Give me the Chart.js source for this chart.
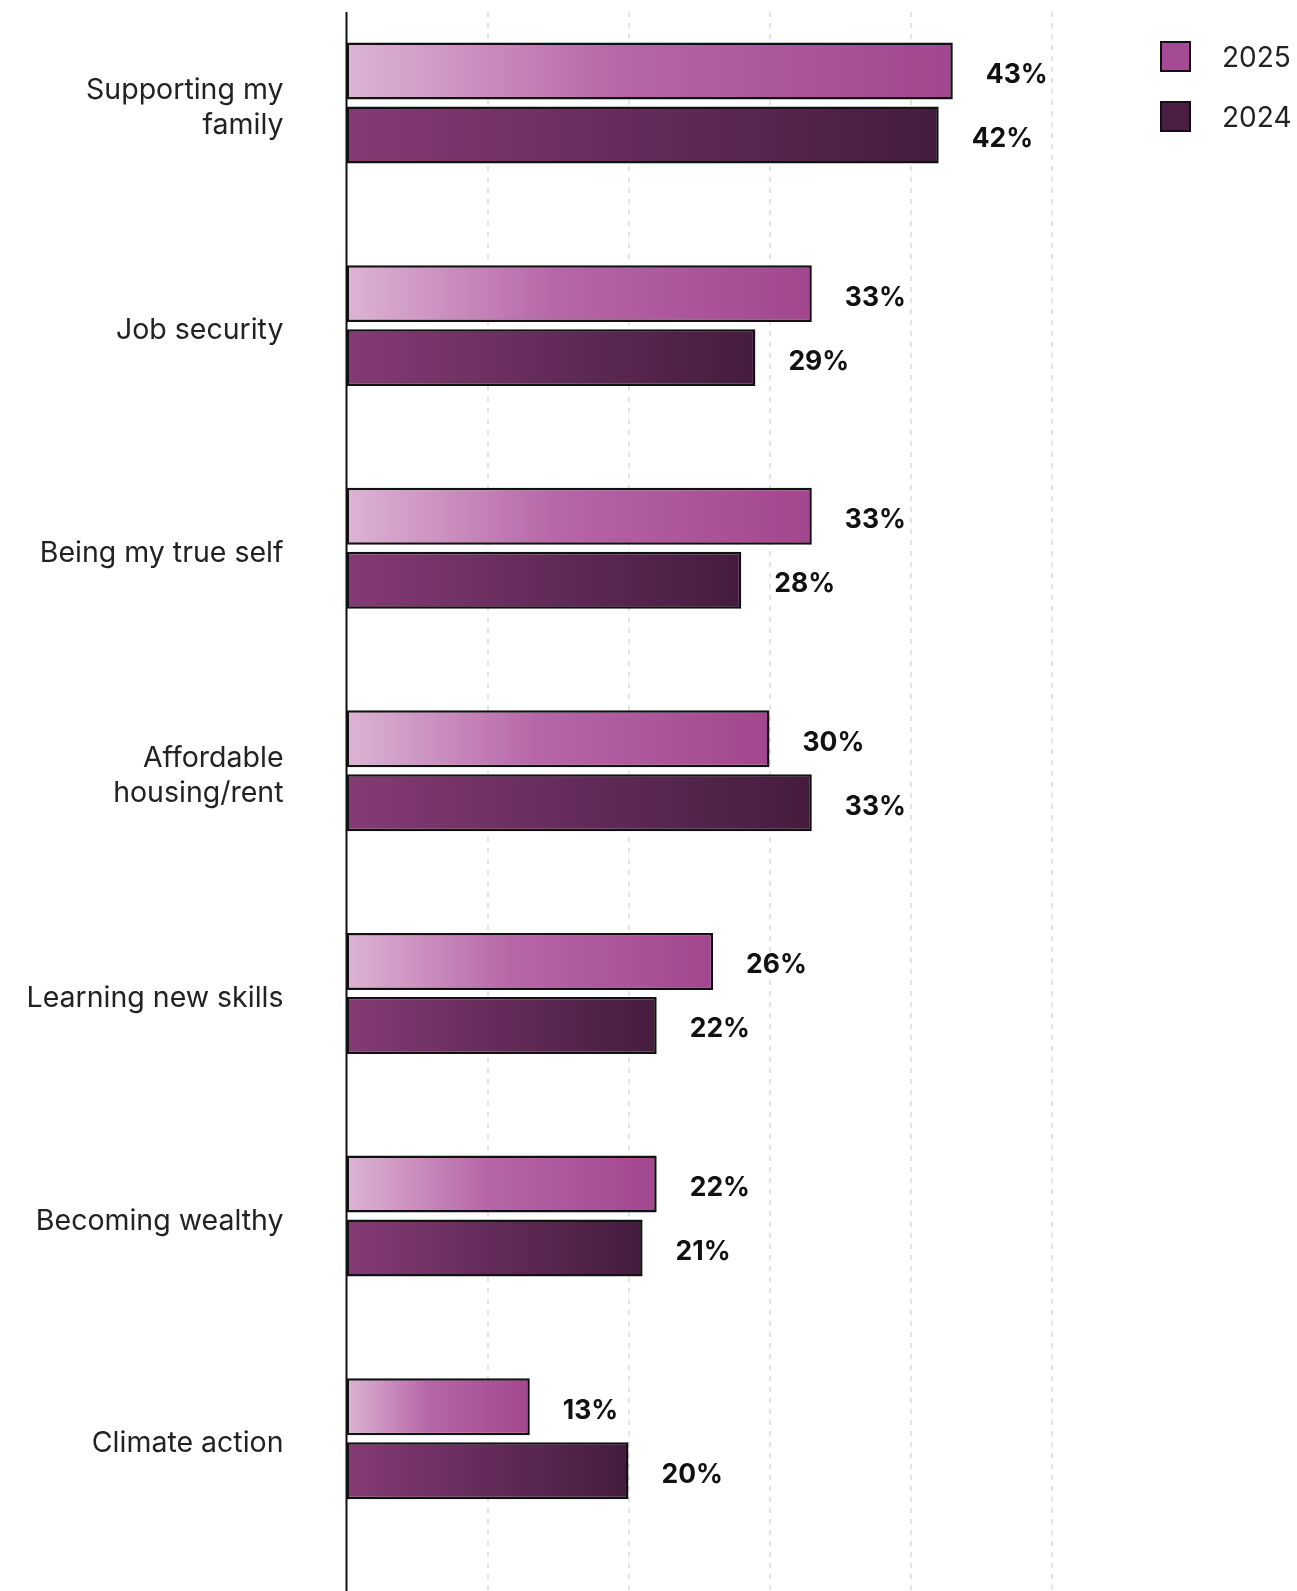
<!DOCTYPE html>
<html>
<head>
<meta charset="utf-8">
<script src="https://cdn.jsdelivr.net/npm/chart.js@4"></script>
<style>
  html, body { margin: 0; padding: 0; background: #ffffff; overflow: hidden; }
  #wrap { position: absolute; left: 0; top: -30px; width: 1297px; height: 1621px; }
</style>
</head>
<body>
<div id="wrap"><canvas id="c"></canvas></div>
<script>
const categories = [
  ["Supporting my", "family"],
  "Job security",
  "Being my true self",
  ["Affordable", "housing/rent"],
  "Learning new skills",
  "Becoming wealthy",
  "Climate action"
];
const seriesNames = ["2025", "2024"];
const values2025 = [43, 33, 33, 30, 26, 22, 13];
const values2024 = [42, 29, 28, 33, 22, 21, 20];
const xTicks = [0, 10, 20, 30, 40, 50];

const legendColors = ["#a54a94", "#4b1f44"];
const gradStops = [
  [[0, "#ddb4d4"], [0.45, "#b666a7"], [1, "#a3468f"]],
  [[0, "#853b75"], [0.5, "#632b59"], [1, "#451c3d"]]
];

function barGradient(di) {
  return function (ctx) {
    const chart = ctx.chart;
    const xs = chart.scales.x;
    if (!xs || ctx.raw === undefined || !chart.chartArea) return legendColors[di];
    const x0 = xs.getPixelForValue(0);
    const x1 = xs.getPixelForValue(ctx.raw);
    if (!isFinite(x0) || !isFinite(x1) || x1 === x0) return legendColors[di];
    const g = chart.ctx.createLinearGradient(x0, 0, x1, 0);
    gradStops[di].forEach(s => g.addColorStop(s[0], s[1]));
    return g;
  };
}

const FONT = "Inter, 'Open Sans', sans-serif";

const gridPlugin = {
  id: "gridPlugin",
  beforeDatasetsDraw(chart) {
    const c = chart.ctx;
    const xs = chart.scales.x;
    const top = 42, bottom = chart.height;
    c.save();
    c.strokeStyle = "#e3e3e3";
    c.lineWidth = 2;
    c.setLineDash([5, 6]);
    xTicks.forEach(t => {
      if (t === 0) return;
      const x = Math.round(xs.getPixelForValue(t));
      c.beginPath(); c.moveTo(x, top); c.lineTo(x, bottom); c.stroke();
    });
    c.setLineDash([]);
    c.strokeStyle = "#111111";
    c.lineWidth = 2;
    const x0 = xs.getPixelForValue(0);
    c.beginPath(); c.moveTo(x0, top); c.lineTo(x0, bottom); c.stroke();
    c.restore();
  }
};

const valueLabels = {
  id: "valueLabels",
  afterDatasetsDraw(chart) {
    const c = chart.ctx;
    c.save();
    c.font = "700 26.5px " + FONT;
    c.fillStyle = "#111111";
    c.textAlign = "left";
    c.textBaseline = "middle";
    chart.data.datasets.forEach((ds, di) => {
      const meta = chart.getDatasetMeta(di);
      meta.data.forEach((el, i) => {
        c.fillText(ds.data[i] + "%", el.x + 33, el.y + 4);
      });
    });
    c.restore();
  }
};

const legendPlugin = {
  id: "legendPlugin",
  afterDraw(chart) {
    const c = chart.ctx;
    c.save();
    seriesNames.forEach((name, i) => {
      const y = 71 + i * 60;
      c.fillStyle = legendColors[i];
      c.fillRect(1160, y, 31, 31);
      c.strokeStyle = "#111111";
      c.lineWidth = 2;
      c.strokeRect(1161, y + 1, 29, 29);
      c.fillStyle = "#222222";
      c.font = "28px " + FONT;
      c.textAlign = "left";
      c.textBaseline = "middle";
      c.fillText(name, 1222, y + 18);
    });
    c.restore();
  }
};

new Chart(document.getElementById("c"), {
  type: "bar",
  data: {
    labels: categories,
    datasets: [
      { label: seriesNames[0], data: values2025, backgroundColor: barGradient(0),
        borderColor: "#111111", borderWidth: 2.5, borderSkipped: false,
        categoryPercentage: 0.575, barPercentage: 0.89 },
      { label: seriesNames[1], data: values2024, backgroundColor: barGradient(1),
        borderColor: "#111111", borderWidth: 2.5, borderSkipped: false,
        categoryPercentage: 0.575, barPercentage: 0.89 }
    ]
  },
  options: {
    indexAxis: "y",
    responsive: true,
    maintainAspectRatio: false,
    animation: false,
    devicePixelRatio: 1,
    layout: { padding: { left: 0, right: 245.5, top: 21.7, bottom: 41 } },
    plugins: { legend: { display: false }, tooltip: { enabled: false } },
    scales: {
      x: {
        display: false,
        min: xTicks[0],
        max: xTicks[xTicks.length - 1]
      },
      y: {
        afterFit(scale) {
          scale.width = 346.5;
          scale.paddingTop = 0;
          scale.paddingBottom = 0;
        },
        grid: { display: false, drawTicks: false, tickLength: 0 },
        border: { display: false },
        ticks: {
          padding: 63,
          labelOffset: 5,
          color: "#222222",
          font: { family: FONT, size: 28.5, lineHeight: 1.245 }
        }
      }
    }
  },
  plugins: [gridPlugin, valueLabels, legendPlugin]
});
</script>
</body>
</html>
